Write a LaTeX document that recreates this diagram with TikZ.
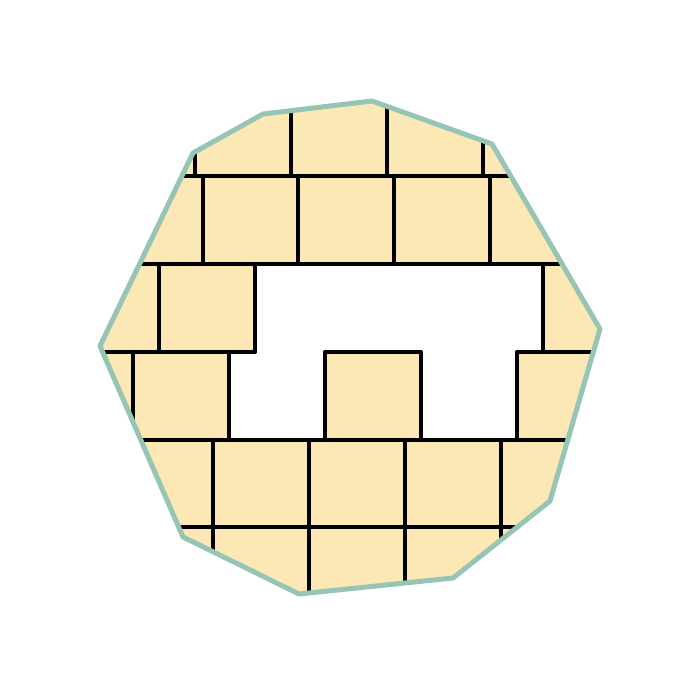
\documentclass[tikz,border=0pt]{standalone}
\definecolor{tileFill}{RGB}{252,232,181}
\definecolor{rimTeal}{RGB}{150,196,181}

\begin{document}
\begin{tikzpicture}[x=0.5pt,y=-0.5pt,
  grout/.style={line width=2.2pt, line join=round},
  rim/.style={draw=rimTeal, line width=2.5pt, line join=round}]
\useasboundingbox (0,0) rectangle (700,700);
% outline corners
\coordinate (c1) at (100,346);
\coordinate (c2) at (193,153);
\coordinate (c3) at (263,114);
\coordinate (c4) at (372,101);
\coordinate (c5) at (492,144);
\coordinate (c6) at (600,329);
\coordinate (c7) at (550,501);
\coordinate (c8) at (453,578);
\coordinate (c9) at (299,594);
\coordinate (c10) at (183,537);
\fill[tileFill] (c1) -- (c2) -- (c3) -- (c4) -- (c5) -- (c6) -- (c7) -- (c8) -- (c9) -- (c10) -- cycle;
% the gap
\fill[white] (255,264) -- (543,264) -- (543,352) -- (517,352) -- (517,440) -- (421,440)
  -- (421,352) -- (325,352) -- (325,440) -- (229,440) -- (229,352) -- (255,352) -- cycle;
\begin{scope}
\clip (c1) -- (c2) -- (c3) -- (c4) -- (c5) -- (c6) -- (c7) -- (c8) -- (c9) -- (c10) -- cycle;
\foreach \y in {176,264,440,527}
  \draw[grout] (0,\y) -- (700,\y);
\draw[grout] (0,352) -- (255,352) -- (255,264);
\draw[grout] (325,440) -- (325,352) -- (421,352) -- (421,440);
\draw[grout] (517,440) -- (517,352) -- (700,352);
% rows
\foreach \x in {195,291,387,483}
  \draw[grout] (\x,80) -- (\x,176);
\foreach \x in {203,298,394,490}
  \draw[grout] (\x,176) -- (\x,264);
\foreach \x in {159,543}
  \draw[grout] (\x,264) -- (\x,352);
\foreach \x in {133,229}
  \draw[grout] (\x,352) -- (\x,440);
\foreach \x in {213,309,405,501}
  \draw[grout] (\x,440) -- (\x,620);
\end{scope}
\draw[rim] (c1) -- (c2) -- (c3) -- (c4) -- (c5) -- (c6) -- (c7) -- (c8) -- (c9) -- (c10) -- cycle;
\end{tikzpicture}
\end{document}
